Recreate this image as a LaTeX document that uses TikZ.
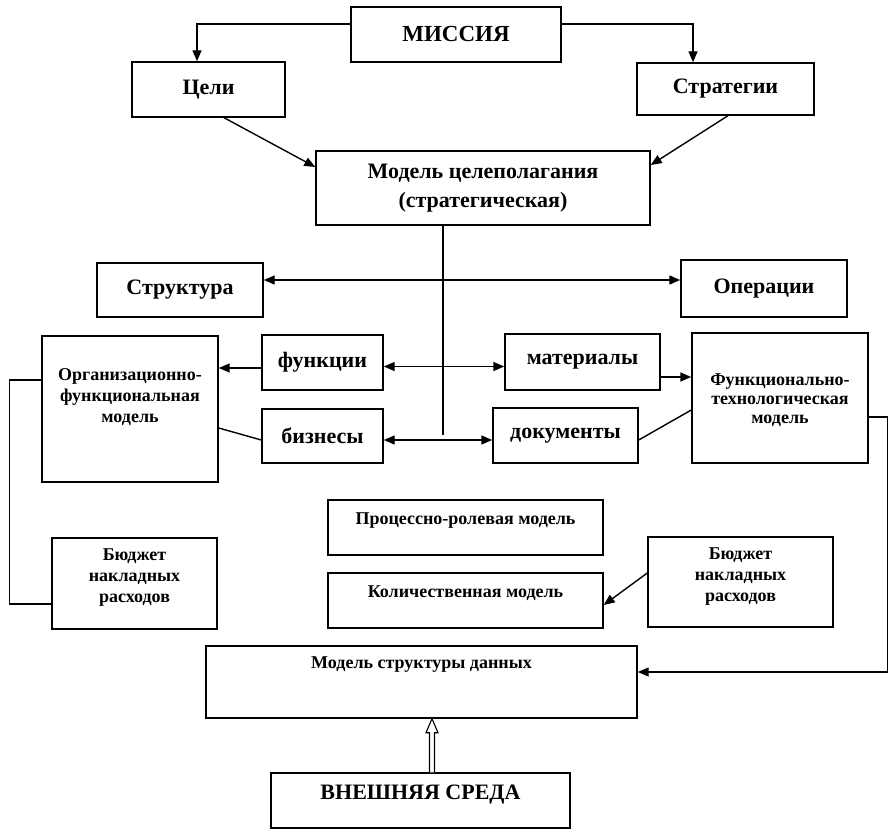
\documentclass[tikz,border=0pt]{standalone}
\usepackage{fontspec}
\setmainfont{Liberation Serif}
\usetikzlibrary{arrows.meta,calc}
\begin{document}
\begin{tikzpicture}[x=1pt,y=-1pt, line width=1.4pt,
  box/.style={draw, rectangle, inner sep=0pt, font=\bfseries\fontsize{22}{26}\selectfont, align=center},
  sbox/.style={draw, rectangle, inner sep=0pt},
  lbl/.style={inner sep=0pt, font=\bfseries\fontsize{18}{21}\selectfont, align=center},
  arr/.style={-{Triangle[length=11pt,width=9pt]}},
  darr/.style={{Triangle[length=11pt,width=9pt]}-{Triangle[length=11pt,width=9pt]}}]
\useasboundingbox (0,0) rectangle (889,829);
% top
\node[box, minimum width=210pt, minimum height=55pt, font=\bfseries\fontsize{23}{26}\selectfont] (mis) at (456,34.5) {МИССИЯ};
\node[box, minimum width=153pt, minimum height=55pt] (celi) at (208.5,89.5) {Цели};
\node[box, minimum width=177pt, minimum height=52pt] (strat) at (725.5,89) {Стратегии};
\node[box, minimum width=334pt, minimum height=74pt, font=\bfseries\fontsize{22}{29}\selectfont] (model) at (483,188) {Модель целеполагания\\(стратегическая)};
% middle
\node[box, minimum width=166pt, minimum height=54pt] (struct) at (180,290) {Структура};
\node[box, minimum width=166pt, minimum height=57pt] (oper) at (764,288.5) {Операции};
\node[box, minimum width=121pt, minimum height=55pt] (func) at (322.5,362.5) {функции};
\node[box, minimum width=121pt, minimum height=54pt] (biz) at (322.5,436) {бизнесы};
\node[box, minimum width=155pt, minimum height=56pt] (mat) at (582.5,362) {материалы};
\node[box, minimum width=145pt, minimum height=55pt] (doc) at (565.5,435.5) {документы};
\node[sbox, minimum width=176pt, minimum height=146pt] (org) at (130,409) {};
\node[lbl] (orgt) at (130,397) {Организационно-\\функциональная\\модель};
\node[sbox, minimum width=176pt, minimum height=130pt] (ftm) at (780,398) {};
\node[lbl, font=\bfseries\fontsize{18}{19}\selectfont] (ftmt) at (780,400) {Функционально-\\технологическая\\модель};
% lower
\node[sbox, minimum width=165pt, minimum height=91pt] (bl) at (134.5,583.5) {};
\node[lbl] (blt) at (134.5,578) {Бюджет\\накладных\\расходов};
\node[sbox, minimum width=185pt, minimum height=90pt] (br) at (740.5,582) {};
\node[lbl] (brt) at (740.5,577) {Бюджет\\накладных\\расходов};
\node[sbox, minimum width=275pt, minimum height=55pt] (proc) at (465.5,527.5) {};
\node[lbl] (proct) at (465.5,521) {Процессно-ролевая модель};
\node[sbox, minimum width=275pt, minimum height=55pt] (kol) at (465.5,600.5) {};
\node[lbl] (kolt) at (465.5,593) {Количественная модель};
\node[sbox, minimum width=431pt, minimum height=72pt] (msd) at (421.5,682) {};
\node[lbl] (msdt) at (421.5,665) {Модель структуры данных};
\node[sbox, minimum width=299pt, minimum height=55pt] (vs) at (420.5,800.5) {};
\node[inner sep=0pt, font=\bfseries\fontsize{22}{26}\selectfont] (vst) at (420.5,795) {ВНЕШНЯЯ СРЕДА};
% connectors top
\draw[arr] ($(mis.west)+(0,-10.5)$) -| ($(celi.north)+(-11.5,0)$);
\draw[arr] ($(mis.east)+(0,-10.5)$) -| ($(strat.north)+(-32.5,0)$);
\draw[arr] ($(celi.south)+(15.5,0)$) -- ($(model.west)+(0,-21)$);
\draw[arr] ($(strat.south)+(2.5,0)$) -- ($(model.east)+(0,-23)$);
% trunk
\coordinate (vend) at (443,435);
\draw (model.south -| vend) -- (vend);
\draw[darr] ($(struct.east)+(0,-10)$) coordinate (s1) -- (s1 -| oper.west);
\draw[darr] ($(func.east)+(0,4)$) coordinate (f1) -- (f1 -| mat.west);
\draw[darr] ($(biz.east)+(0,4)$) coordinate (b1) -- (b1 -| doc.west);
\draw[arr] ($(func.west)+(0,5.5)$) coordinate (f2) -- (f2 -| org.east);
\draw[arr] ($(mat.east)+(0,15)$) coordinate (m2) -- (m2 -| ftm.west);
\draw ($(org.east)+(0,19)$) -- ($(biz.west)+(0,4)$);
\draw ($(doc.east)+(0,4.5)$) -- ($(ftm.west)+(0,12)$);
% side connectors
\draw[arr] ($(ftm.east)+(0,19)$) -- ++(19,0) |- ($(msd.east)+(0,-10)$);
\draw[arr] ($(br.west)+(0,-9)$) -- ($(kol.east)+(0,4.5)$);
\draw ($(org.west)+(0,-29)$) -- ++(-32,0) |- ($(bl.west)+(0,20.5)$);
% hollow arrow
\draw[line width=1.1pt, fill=white, line join=miter]
  ($(vs.north)+(9,0)$) -- ($(msd.south)+(8,14)$) -- ($(msd.south)+(4.5,14)$)
  -- ($(msd.south)+(10.5,0)$) -- ($(msd.south)+(16.5,14)$) -- ($(msd.south)+(13,14)$)
  -- ($(vs.north)+(14,0)$);
\end{tikzpicture}
\end{document}
